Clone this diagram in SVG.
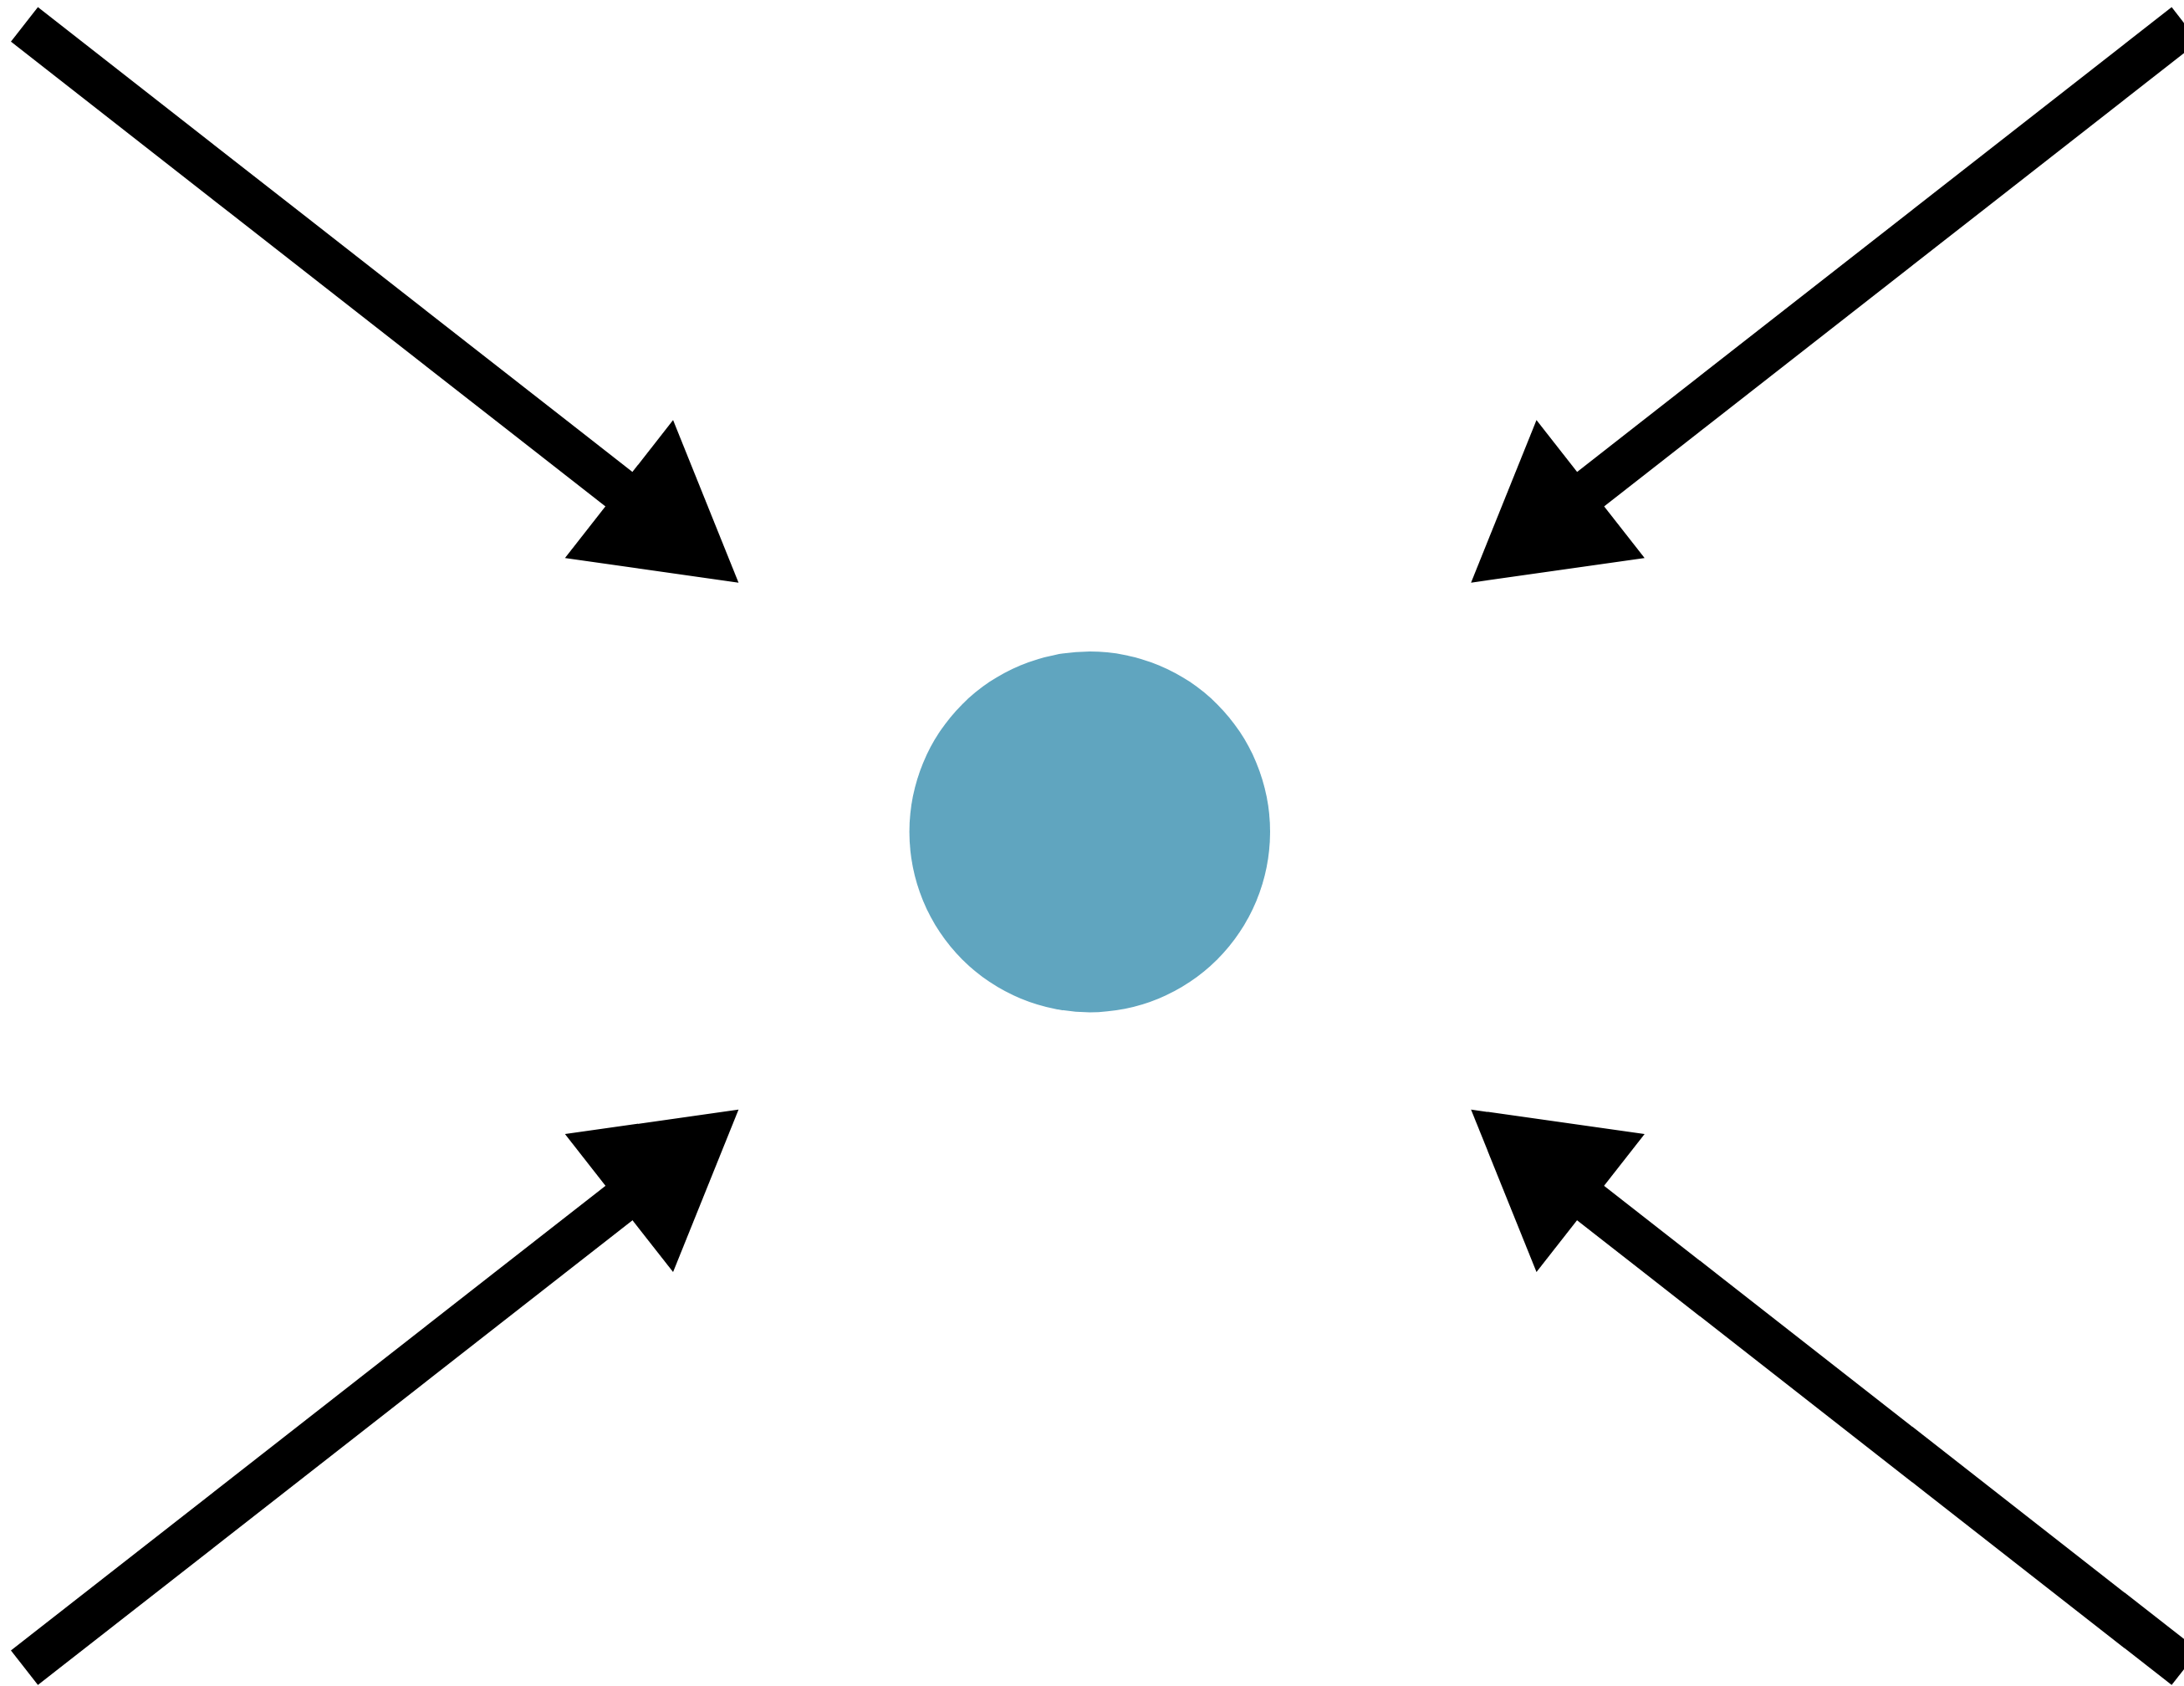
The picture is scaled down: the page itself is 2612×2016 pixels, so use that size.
<svg xmlns="http://www.w3.org/2000/svg" xmlns:xlink="http://www.w3.org/1999/xlink" width="2612" height="2016" viewBox="0 0 2612 2016">
  <style>
    .shaft { stroke: #000; stroke-width: 52.4; stroke-linecap: butt; fill: none; }
    .head { fill: #000; stroke: none; }
    .node { fill: #60a5bf; }
  </style>
  <defs>
    <g id="arrow">
      <line class="shaft" x1="29.2" y1="29.2" x2="745" y2="588.6"/>
      <polygon class="head" points="883.3,696.7 805,502.3 675.7,667.3"/>
    </g>
  </defs>
  <rect width="2612" height="2016" fill="#ffffff"/>
  <g id="connectors">
    <use id="arrow-tl" xlink:href="#arrow" href="#arrow"/>
    <use id="arrow-tr" xlink:href="#arrow" href="#arrow" transform="translate(2642.6,0) scale(-1,1)"/>
    <use id="arrow-bl" xlink:href="#arrow" href="#arrow" transform="translate(0,2023.4) scale(1,-1)"/>
    <use id="arrow-br" xlink:href="#arrow" href="#arrow" transform="translate(2642.6,2023.4) scale(-1,-1)"/>
  </g>
  <g id="center-node">
    <circle class="node" cx="1303.3" cy="994.7" r="215.7"/>
  </g>
</svg>
